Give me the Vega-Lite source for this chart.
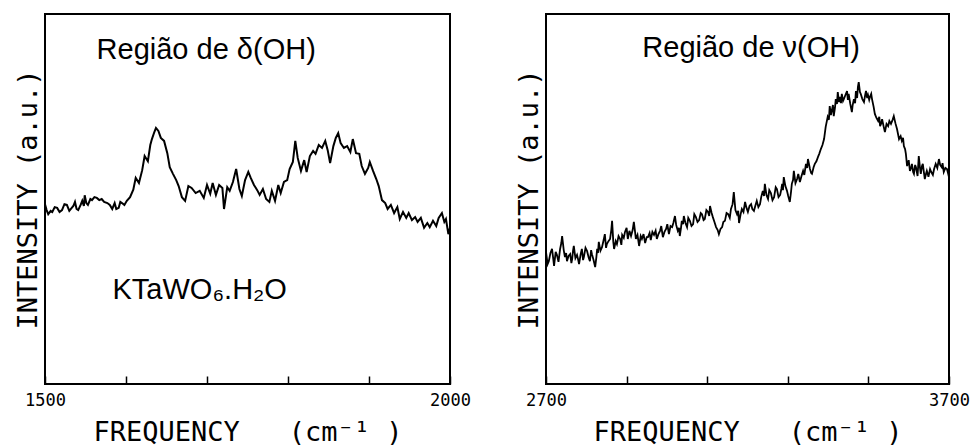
{
  "$schema": "https://vega.github.io/schema/vega-lite/v6.json",
  "padding": {"left": 13, "top": 13, "right": 0, "bottom": 0},
  "autosize": {"type": "pad"},
  "background": "white",
  "spacing": 96,
  "bounds": "flush",
  "config": {
    "view": {"stroke": "black", "strokeWidth": 2},
    "axisX": {
      "grid": false, "domain": false, "tickSize": -8, "tickColor": "black", "tickWidth": 1.5,
      "labelFont": "DejaVu Sans Mono", "labelFontSize": 17, "labelColor": "black", "labelPadding": 16,
      "labelFlush": false, "labelAngle": 0,
      "titleFont": "DejaVu Sans Mono", "titleFontSize": 27, "titleFontWeight": "normal", "titleColor": "black", "titlePadding": 11
    },
    "axisY": {
      "grid": false, "domain": false, "ticks": false, "labels": false,
      "titleFont": "DejaVu Sans Mono", "titleFontSize": 27, "titleFontWeight": "normal", "titleColor": "black",
      "titleBaseline": "alphabetic", "titlePadding": 9
    }
  },
  "datasets": {
    "left": [
      {"f":1500,"I":48.6},{"f":1502,"I":47.0},{"f":1504,"I":45.9},{"f":1507,"I":46.8},{"f":1509,"I":46.5},{"f":1512,"I":47.8},{"f":1515,"I":47.6},{"f":1518,"I":46.5},{"f":1521,"I":47.0},{"f":1524,"I":48.6},{"f":1527,"I":48.4},{"f":1530,"I":46.8},{"f":1533,"I":47.6},{"f":1535,"I":48.1},{"f":1537,"I":49.2},{"f":1539,"I":47.3},{"f":1541,"I":47.0},{"f":1544,"I":48.4},{"f":1546,"I":49.5},{"f":1548,"I":48.1},{"f":1549,"I":51.0},{"f":1551,"I":48.9},{"f":1553,"I":48.4},{"f":1556,"I":50.0},{"f":1558,"I":49.7},{"f":1561,"I":50.5},{"f":1564,"I":50.3},{"f":1567,"I":49.7},{"f":1570,"I":50.0},{"f":1573,"I":49.2},{"f":1577,"I":48.9},{"f":1580,"I":48.4},{"f":1583,"I":47.3},{"f":1586,"I":48.9},{"f":1588,"I":47.3},{"f":1591,"I":47.6},{"f":1593,"I":49.2},{"f":1595,"I":48.9},{"f":1598,"I":48.4},{"f":1601,"I":49.5},{"f":1605,"I":50.5},{"f":1609,"I":52.5},{"f":1612,"I":55.7},{"f":1616,"I":54.3},{"f":1620,"I":57.8},{"f":1623,"I":61.6},{"f":1627,"I":60.2},{"f":1630,"I":64.6},{"f":1632,"I":66.2},{"f":1635,"I":68.1},{"f":1637,"I":69.2},{"f":1640,"I":68.4},{"f":1643,"I":66.5},{"f":1647,"I":65.7},{"f":1651,"I":62.4},{"f":1654,"I":58.6},{"f":1658,"I":56.8},{"f":1662,"I":55.1},{"f":1665,"I":53.5},{"f":1669,"I":50.5},{"f":1673,"I":49.5},{"f":1677,"I":53.5},{"f":1681,"I":53.0},{"f":1686,"I":51.6},{"f":1691,"I":52.2},{"f":1696,"I":50.3},{"f":1700,"I":53.8},{"f":1704,"I":51.4},{"f":1707,"I":54.3},{"f":1711,"I":51.1},{"f":1715,"I":53.8},{"f":1719,"I":53.0},{"f":1721,"I":47.3},{"f":1725,"I":53.2},{"f":1728,"I":52.2},{"f":1732,"I":54.6},{"f":1736,"I":58.1},{"f":1740,"I":52.7},{"f":1743,"I":50.8},{"f":1747,"I":55.1},{"f":1751,"I":57.3},{"f":1754,"I":55.7},{"f":1758,"I":53.8},{"f":1762,"I":52.4},{"f":1765,"I":51.1},{"f":1769,"I":52.7},{"f":1773,"I":50.0},{"f":1777,"I":49.2},{"f":1780,"I":52.2},{"f":1784,"I":49.5},{"f":1788,"I":53.8},{"f":1791,"I":51.6},{"f":1795,"I":54.6},{"f":1799,"I":55.1},{"f":1802,"I":58.1},{"f":1806,"I":60.0},{"f":1809,"I":65.7},{"f":1812,"I":61.1},{"f":1816,"I":57.6},{"f":1820,"I":60.5},{"f":1823,"I":57.3},{"f":1827,"I":61.6},{"f":1831,"I":63.0},{"f":1834,"I":62.2},{"f":1838,"I":64.6},{"f":1842,"I":63.8},{"f":1846,"I":65.7},{"f":1849,"I":63.2},{"f":1852,"I":59.7},{"f":1856,"I":64.3},{"f":1859,"I":66.5},{"f":1862,"I":67.8},{"f":1865,"I":65.1},{"f":1869,"I":63.8},{"f":1873,"I":64.3},{"f":1877,"I":62.7},{"f":1880,"I":66.2},{"f":1884,"I":62.4},{"f":1888,"I":62.2},{"f":1891,"I":58.9},{"f":1895,"I":56.8},{"f":1899,"I":58.4},{"f":1901,"I":60.0},{"f":1905,"I":57.6},{"f":1909,"I":55.4},{"f":1912,"I":53.5},{"f":1916,"I":49.7},{"f":1920,"I":48.9},{"f":1923,"I":47.3},{"f":1927,"I":48.4},{"f":1931,"I":46.2},{"f":1935,"I":47.8},{"f":1938,"I":44.6},{"f":1942,"I":46.5},{"f":1946,"I":44.9},{"f":1949,"I":46.2},{"f":1953,"I":44.3},{"f":1957,"I":45.1},{"f":1960,"I":43.8},{"f":1964,"I":44.9},{"f":1968,"I":42.2},{"f":1972,"I":43.5},{"f":1975,"I":42.4},{"f":1979,"I":44.1},{"f":1983,"I":42.7},{"f":1986,"I":44.9},{"f":1990,"I":46.2},{"f":1993,"I":43.8},{"f":1995,"I":44.6},{"f":1998,"I":40.5},{"f":2000,"I":42.2}
    ],
    "right": [
      {"f":2700,"I":35.7},{"f":2704,"I":32.4},{"f":2707,"I":33.2},{"f":2711,"I":35.4},{"f":2715,"I":36.5},{"f":2718,"I":33.8},{"f":2720,"I":31.9},{"f":2724,"I":35.7},{"f":2727,"I":34.9},{"f":2731,"I":33.0},{"f":2735,"I":36.5},{"f":2738,"I":38.1},{"f":2740,"I":40.0},{"f":2744,"I":36.2},{"f":2747,"I":34.3},{"f":2750,"I":35.4},{"f":2752,"I":33.2},{"f":2756,"I":34.6},{"f":2760,"I":35.1},{"f":2763,"I":32.7},{"f":2765,"I":33.8},{"f":2767,"I":36.0},{"f":2769,"I":37.3},{"f":2773,"I":34.0},{"f":2777,"I":34.9},{"f":2780,"I":33.5},{"f":2782,"I":32.4},{"f":2786,"I":35.1},{"f":2789,"I":36.5},{"f":2792,"I":33.5},{"f":2794,"I":34.3},{"f":2798,"I":36.8},{"f":2802,"I":35.9},{"f":2806,"I":34.1},{"f":2809,"I":33.2},{"f":2812,"I":36.2},{"f":2814,"I":35.1},{"f":2818,"I":33.5},{"f":2822,"I":31.6},{"f":2825,"I":34.3},{"f":2827,"I":36.5},{"f":2829,"I":35.4},{"f":2831,"I":38.4},{"f":2835,"I":36.0},{"f":2839,"I":37.0},{"f":2843,"I":38.9},{"f":2846,"I":40.5},{"f":2849,"I":36.8},{"f":2851,"I":37.8},{"f":2855,"I":38.6},{"f":2859,"I":39.2},{"f":2862,"I":41.6},{"f":2864,"I":44.1},{"f":2867,"I":38.4},{"f":2869,"I":36.5},{"f":2873,"I":38.6},{"f":2876,"I":37.8},{"f":2880,"I":40.0},{"f":2884,"I":39.2},{"f":2887,"I":37.6},{"f":2889,"I":40.3},{"f":2893,"I":39.5},{"f":2896,"I":41.1},{"f":2900,"I":42.2},{"f":2903,"I":39.2},{"f":2907,"I":41.4},{"f":2911,"I":40.0},{"f":2915,"I":41.6},{"f":2918,"I":43.8},{"f":2921,"I":41.1},{"f":2923,"I":39.2},{"f":2927,"I":40.3},{"f":2931,"I":37.3},{"f":2935,"I":40.0},{"f":2938,"I":39.2},{"f":2942,"I":40.5},{"f":2946,"I":38.1},{"f":2950,"I":39.7},{"f":2953,"I":39.7},{"f":2957,"I":40.8},{"f":2960,"I":38.9},{"f":2964,"I":41.1},{"f":2968,"I":40.3},{"f":2972,"I":41.4},{"f":2975,"I":39.2},{"f":2979,"I":40.5},{"f":2983,"I":41.4},{"f":2986,"I":42.7},{"f":2990,"I":39.7},{"f":2994,"I":41.1},{"f":2998,"I":41.9},{"f":3001,"I":43.2},{"f":3005,"I":40.5},{"f":3009,"I":42.7},{"f":3013,"I":42.4},{"f":3016,"I":43.5},{"f":3020,"I":45.4},{"f":3023,"I":43.0},{"f":3027,"I":41.4},{"f":3030,"I":42.2},{"f":3032,"I":40.0},{"f":3035,"I":42.2},{"f":3037,"I":44.1},{"f":3040,"I":43.2},{"f":3042,"I":45.4},{"f":3046,"I":43.5},{"f":3050,"I":42.4},{"f":3053,"I":44.9},{"f":3057,"I":44.1},{"f":3061,"I":42.7},{"f":3065,"I":43.2},{"f":3068,"I":45.9},{"f":3072,"I":45.1},{"f":3076,"I":43.8},{"f":3080,"I":44.3},{"f":3084,"I":46.2},{"f":3087,"I":45.9},{"f":3091,"I":44.3},{"f":3094,"I":44.6},{"f":3098,"I":47.0},{"f":3102,"I":46.5},{"f":3105,"I":45.4},{"f":3107,"I":48.1},{"f":3111,"I":46.2},{"f":3114,"I":45.1},{"f":3118,"I":43.8},{"f":3122,"I":42.4},{"f":3126,"I":41.6},{"f":3129,"I":40.5},{"f":3133,"I":41.9},{"f":3137,"I":42.4},{"f":3140,"I":43.8},{"f":3144,"I":44.1},{"f":3148,"I":46.2},{"f":3152,"I":45.9},{"f":3156,"I":44.9},{"f":3159,"I":47.3},{"f":3163,"I":48.6},{"f":3166,"I":51.9},{"f":3170,"I":47.0},{"f":3174,"I":45.9},{"f":3177,"I":46.8},{"f":3179,"I":43.5},{"f":3183,"I":45.9},{"f":3186,"I":47.3},{"f":3190,"I":46.5},{"f":3194,"I":49.2},{"f":3197,"I":47.8},{"f":3201,"I":46.5},{"f":3205,"I":48.1},{"f":3209,"I":48.6},{"f":3212,"I":47.3},{"f":3216,"I":46.8},{"f":3220,"I":48.4},{"f":3223,"I":49.5},{"f":3227,"I":47.8},{"f":3231,"I":48.6},{"f":3234,"I":50.5},{"f":3238,"I":52.2},{"f":3241,"I":50.8},{"f":3243,"I":54.1},{"f":3247,"I":51.1},{"f":3251,"I":50.0},{"f":3254,"I":52.4},{"f":3258,"I":51.6},{"f":3262,"I":49.7},{"f":3266,"I":50.5},{"f":3270,"I":53.2},{"f":3273,"I":52.7},{"f":3277,"I":50.5},{"f":3281,"I":51.1},{"f":3284,"I":52.7},{"f":3286,"I":54.1},{"f":3288,"I":52.4},{"f":3290,"I":55.9},{"f":3294,"I":53.5},{"f":3298,"I":52.2},{"f":3301,"I":50.8},{"f":3305,"I":49.2},{"f":3308,"I":51.9},{"f":3310,"I":54.1},{"f":3313,"I":55.1},{"f":3315,"I":57.6},{"f":3319,"I":54.3},{"f":3323,"I":55.4},{"f":3326,"I":56.8},{"f":3330,"I":54.6},{"f":3334,"I":56.2},{"f":3338,"I":57.6},{"f":3341,"I":56.5},{"f":3345,"I":59.5},{"f":3348,"I":58.4},{"f":3350,"I":60.8},{"f":3353,"I":59.2},{"f":3355,"I":58.1},{"f":3358,"I":57.0},{"f":3360,"I":56.8},{"f":3364,"I":58.6},{"f":3367,"I":59.5},{"f":3371,"I":60.2},{"f":3375,"I":61.4},{"f":3378,"I":62.2},{"f":3382,"I":63.5},{"f":3386,"I":64.6},{"f":3390,"I":66.2},{"f":3394,"I":69.5},{"f":3399,"I":72.2},{"f":3402,"I":71.4},{"f":3404,"I":75.1},{"f":3407,"I":72.7},{"f":3409,"I":73.8},{"f":3412,"I":75.4},{"f":3414,"I":72.4},{"f":3417,"I":74.6},{"f":3419,"I":77.0},{"f":3422,"I":75.7},{"f":3424,"I":78.9},{"f":3427,"I":76.2},{"f":3429,"I":77.6},{"f":3432,"I":75.9},{"f":3434,"I":78.4},{"f":3437,"I":76.5},{"f":3439,"I":77.0},{"f":3443,"I":78.1},{"f":3447,"I":79.2},{"f":3449,"I":76.8},{"f":3451,"I":78.4},{"f":3455,"I":75.7},{"f":3459,"I":73.5},{"f":3461,"I":75.4},{"f":3464,"I":77.0},{"f":3467,"I":75.9},{"f":3469,"I":79.2},{"f":3472,"I":77.3},{"f":3474,"I":80.3},{"f":3476,"I":81.6},{"f":3479,"I":78.9},{"f":3481,"I":78.4},{"f":3485,"I":77.0},{"f":3489,"I":76.2},{"f":3492,"I":78.1},{"f":3494,"I":79.2},{"f":3497,"I":77.3},{"f":3499,"I":78.1},{"f":3502,"I":76.8},{"f":3504,"I":77.6},{"f":3507,"I":78.4},{"f":3509,"I":77.0},{"f":3513,"I":74.9},{"f":3516,"I":73.0},{"f":3520,"I":71.9},{"f":3524,"I":71.1},{"f":3527,"I":72.2},{"f":3529,"I":69.7},{"f":3532,"I":70.5},{"f":3534,"I":71.6},{"f":3538,"I":69.5},{"f":3541,"I":68.1},{"f":3545,"I":70.3},{"f":3549,"I":69.7},{"f":3552,"I":71.1},{"f":3556,"I":70.3},{"f":3560,"I":71.4},{"f":3563,"I":72.4},{"f":3567,"I":70.5},{"f":3571,"I":68.9},{"f":3574,"I":67.3},{"f":3576,"I":66.2},{"f":3580,"I":67.0},{"f":3583,"I":65.7},{"f":3586,"I":66.5},{"f":3588,"I":64.3},{"f":3591,"I":63.5},{"f":3593,"I":62.2},{"f":3596,"I":58.9},{"f":3600,"I":60.5},{"f":3603,"I":57.6},{"f":3606,"I":58.4},{"f":3608,"I":59.5},{"f":3611,"I":57.3},{"f":3613,"I":56.8},{"f":3616,"I":59.2},{"f":3618,"I":58.6},{"f":3622,"I":56.2},{"f":3625,"I":61.6},{"f":3628,"I":58.4},{"f":3630,"I":56.8},{"f":3633,"I":58.9},{"f":3635,"I":59.5},{"f":3638,"I":57.0},{"f":3640,"I":55.4},{"f":3643,"I":56.8},{"f":3645,"I":57.6},{"f":3649,"I":56.0},{"f":3653,"I":58.1},{"f":3656,"I":57.3},{"f":3660,"I":56.5},{"f":3663,"I":58.1},{"f":3667,"I":59.5},{"f":3671,"I":58.4},{"f":3675,"I":60.8},{"f":3678,"I":59.2},{"f":3682,"I":58.6},{"f":3684,"I":59.7},{"f":3687,"I":57.3},{"f":3691,"I":58.4},{"f":3695,"I":58.1},{"f":3698,"I":56.8},{"f":3700,"I":55.9}
    ],
    "notesLeft": [
      {"f":1699,"I":87.8,"label":"Região de δ(OH)"},
      {"f":1691,"I":23.0,"label":"KTaWO₆.H₂O"}
    ],
    "notesRight": [
      {"f":3209,"I":88.4,"label":"Região de ν(OH)"}
    ]
  },
  "hconcat": [
    {
      "width": 405,
      "height": 370,
      "encoding": {
        "x": {"field":"f","type":"quantitative","scale":{"domain":[1500,2000],"nice":false,"zero":false},
              "axis":{"values":[1500,1600,1700,1800,1900,2000],"format":"d","labelExpr":"datum.value == 1500 || datum.value == 2000 ? datum.label : ''","title":"FREQUENCY\u00a0\u00a0\u00a0(cm⁻¹\u00a0)"}},
        "y": {"field":"I","type":"quantitative","scale":{"domain":[0,100],"nice":false},"axis":{"title":"INTENSITY (a.u.)"}}
      },
      "layer": [
        {"data":{"name":"left"},"mark":{"type":"line","color":"black","strokeWidth":2}},
        {"data":{"name":"notesLeft"},"mark":{"type":"text","font":"Liberation Sans","fontSize":29,"color":"black","align":"center","baseline":"alphabetic"},
         "encoding":{"text":{"field":"label"}}}
      ]
    },
    {
      "width": 403,
      "height": 370,
      "encoding": {
        "x": {"field":"f","type":"quantitative","scale":{"domain":[2700,3700],"nice":false,"zero":false},
              "axis":{"values":[2700,2900,3100,3300,3500,3700],"format":"d","labelExpr":"datum.value == 2700 || datum.value == 3700 ? datum.label : ''","title":"FREQUENCY\u00a0\u00a0\u00a0(cm⁻¹\u00a0)"}},
        "y": {"field":"I","type":"quantitative","scale":{"domain":[0,100],"nice":false},"axis":{"title":"INTENSITY (a.u.)"}}
      },
      "layer": [
        {"data":{"name":"right"},"mark":{"type":"line","color":"black","strokeWidth":1.8}},
        {"data":{"name":"notesRight"},"mark":{"type":"text","font":"Liberation Sans","fontSize":29,"color":"black","align":"center","baseline":"alphabetic"},
         "encoding":{"text":{"field":"label"}}}
      ]
    }
  ]
}
